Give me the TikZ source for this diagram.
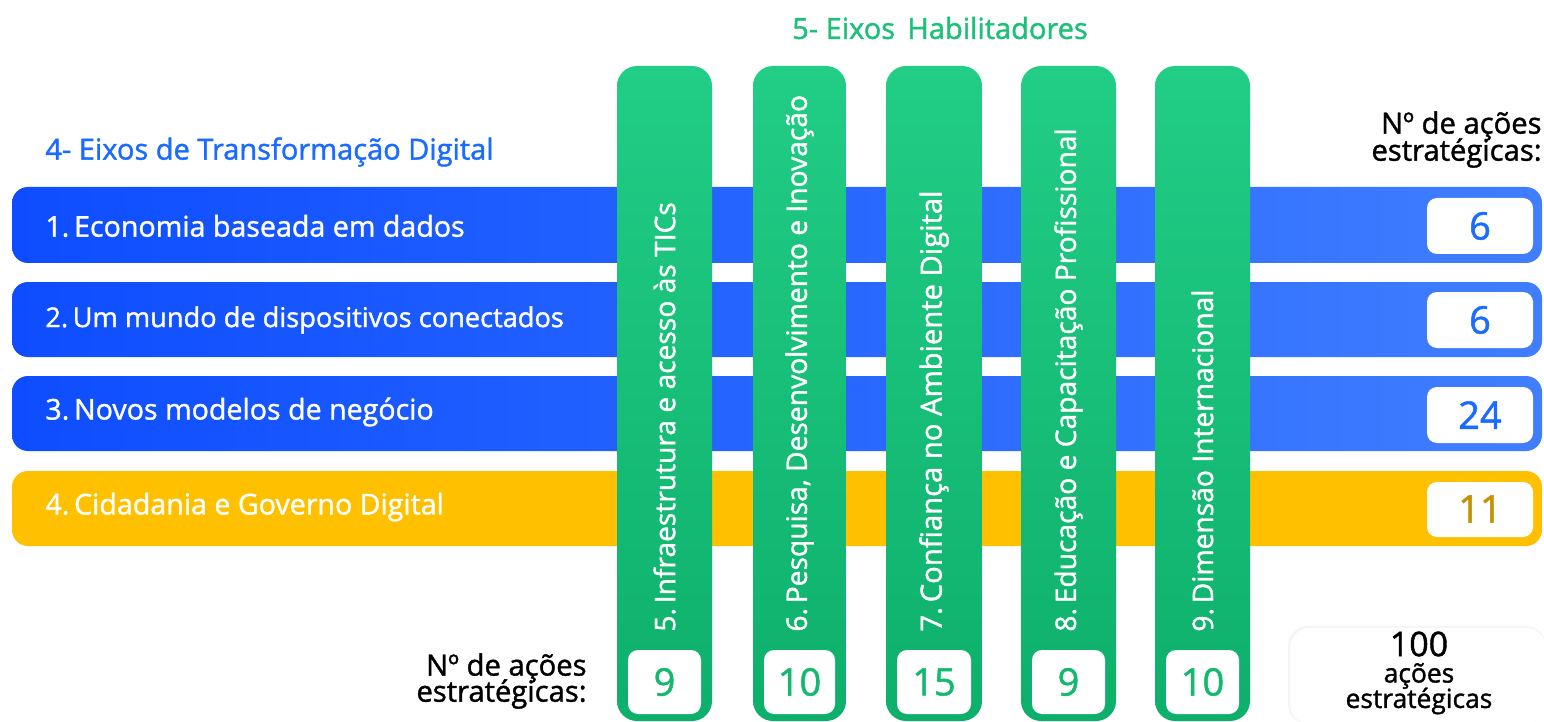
\documentclass[tikz,border=0pt]{standalone}
\usepackage{fontspec}
\setmainfont{Open Sans}
\newfontfamily\medf{Open Sans}[FakeBold=1.3]
\definecolor{bluedark}{HTML}{0D4DFF}
\definecolor{bluelight}{HTML}{407EFF}
\definecolor{bluetxt}{HTML}{1A6BFF}
\definecolor{yel}{HTML}{FFC000}
\definecolor{yeltxt}{HTML}{C39200}
\definecolor{greentop}{HTML}{22CD86}
\definecolor{greenbot}{HTML}{0DB06B}
\definecolor{greentxt}{HTML}{14B86F}
\definecolor{gtitle}{HTML}{1DC078}
\tikzset{
  barlabel/.style={anchor=west, text=white, font=\medf\fontsize{14.3}{16}\selectfont, inner sep=0pt},
  numbox/.style={fill=white, rounded corners=5pt},
  numtxt/.style={font=\medf\fontsize{19}{22}\selectfont, inner sep=0pt},
  coltxt/.style={rotate=90, anchor=west, text=white, font=\medf\fontsize{14.1}{16}\selectfont, inner sep=0pt},
  colnum/.style={text=greentxt, font=\medf\fontsize{19}{22}\selectfont, inner sep=0pt},
  headtxt/.style={font=\medf\fontsize{14.6}{15}\selectfont, inner sep=0pt, align=right, anchor=east},
}
\begin{document}
\begin{tikzpicture}[x=0.5pt,y=-0.5pt]
\useasboundingbox (0,0) rectangle (1544,722);
\fill[white] (0,0) rectangle (1544,722);
% titles
\node[text=gtitle, font=\medf\fontsize{14.5}{16}\selectfont, inner sep=0pt] (t5) at (940,28) {5- Eixos\, Habilitadores};
\node[text=bluetxt, font=\medf\fontsize{14.5}{16}\selectfont, inner sep=0pt, anchor=west] (t4) at (45,152) {4- Eixos de Transformação Digital};
\node[headtxt] (nr1) at (1542,126) {Nº de ações};
\node[headtxt] (nr2) at (1542,153) {estratégicas:};
% bars
\shade[left color=bluedark, right color=bluelight, rounded corners=8pt] (12,187) rectangle (1542,263);
\shade[left color=bluedark, right color=bluelight, rounded corners=8pt] (12,282) rectangle (1542,357);
\shade[left color=bluedark, right color=bluelight, rounded corners=8pt] (12,376) rectangle (1542,451);
\fill[yel, rounded corners=8pt] (12,471) rectangle (1542,546);
\node[barlabel] (l1) at (45,226) {1.\,Economia baseada em dados};
\node[barlabel, font=\medf\fontsize{13.6}{16}\selectfont] (l2) at (45,320) {2.\,Um mundo de dispositivos conectados};
\node[barlabel] (l3) at (45,412) {3.\,Novos modelos de negócio};
\node[barlabel] (l4) at (45,507) {4.\,Cidadania e Governo Digital};
% bar number boxes
\fill[numbox] (1427,198) rectangle (1533,254);
\fill[numbox] (1427,292) rectangle (1533,348);
\fill[numbox] (1427,387) rectangle (1533,443);
\fill[numbox] (1427,482) rectangle (1533,537);
\node[numtxt, text=bluetxt] (n1) at (1480,226) {6};
\node[numtxt, text=bluetxt] (n2) at (1480,320) {6};
\node[numtxt, text=bluetxt] (n3) at (1480,415) {24};
\node[numtxt, text=yeltxt] (n4) at (1480,509) {11};
% columns
\foreach \x/\w in {617/95, 753/93, 886/96, 1021/95, 1155/95}{
  \shade[top color=greentop, bottom color=greenbot, rounded corners=10pt] (\x,66) rectangle (\x+\w,721);
  \fill[white, rounded corners=5pt] (\x+11,650) rectangle (\x+\w-11,714);
}
\node[coltxt] (c1) at (664.5,632) {5.\,Infraestrutura e acesso às TICs};
\node[coltxt] (c2) at (799.5,632) {6.\,Pesquisa,\ Desenvolvimento\ e Inovação};
\node[coltxt, font=\medf\fontsize{14.6}{16}\selectfont] (c3) at (934,632) {7.\,Confiança no Ambiente Digital};
\node[coltxt] (c4) at (1068.5,632) {8.\,Educação e Capacitação Profissional};
\node[coltxt] (c5) at (1202.5,632) {9.\,Dimensão Internacional};
\node[colnum] (m1) at (664.5,682) {9};
\node[colnum] (m2) at (799.5,682) {10};
\node[colnum] (m3) at (934,682) {15};
\node[colnum] (m4) at (1068.5,682) {9};
\node[colnum] (m5) at (1202.5,682) {10};
\node[headtxt] (nb1) at (587,668) {Nº de ações};
\node[headtxt] (nb2) at (587,694) {estratégicas:};
% total box
\fill[black!4, rounded corners=10pt] (1288,626) rectangle (1546,724);
\fill[white, rounded corners=10pt] (1290,628) rectangle (1546,724);
\node[font=\medf\fontsize{17}{18}\selectfont, inner sep=0pt] (tot) at (1419,644) {100};
\node[font=\medf\fontsize{13.2}{14}\selectfont, inner sep=0pt] (tot2) at (1419,676) {ações};
\node[font=\medf\fontsize{13.2}{14}\selectfont, inner sep=0pt] (tot3) at (1419,701) {estratégicas};
\end{tikzpicture}
\end{document}
